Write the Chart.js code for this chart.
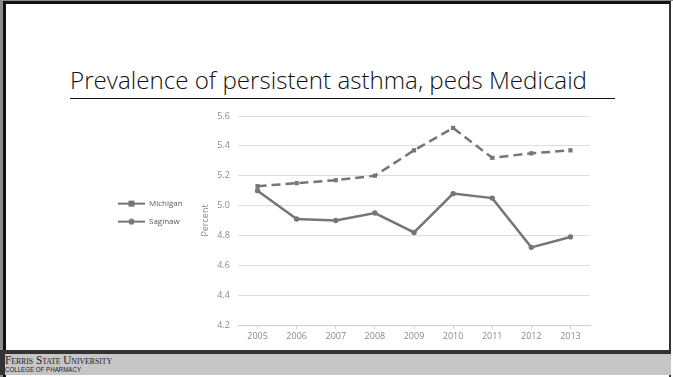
<!DOCTYPE html>
<html>
<head>
<meta charset="utf-8">
<script src="https://cdn.jsdelivr.net/npm/chart.js@4/dist/chart.umd.min.js"></script>
<style>
  html, body { margin: 0; padding: 0; background: #ffffff; }
  #slide { position: relative; width: 673px; height: 377px; overflow: hidden; background: #ffffff; }
  #frameOuter { position: absolute; left: 0; top: 0; width: 673px; height: 377px; box-sizing: border-box;
    border-left: 3px solid #8c8c8c; border-top: 1px solid #8c8c8c; }
  #frameInner { position: absolute; left: 3px; top: 1px; width: 668px; height: 376px; box-sizing: border-box;
    border-left: 3px solid #111; border-top: 3px solid #111; border-right: 2px solid #333; }
  #title { position: absolute; left: 70px; top: 64px; font-family: "Open Sans", sans-serif; font-weight: 300;
    font-size: 23px; color: #111; white-space: nowrap; transform-origin: 0 0; }
  #rule { position: absolute; left: 70px; top: 98px; width: 545px; height: 1px; background: #111; }
  #chartBox { position: absolute; left: 100px; top: 100px; width: 520px; height: 250px; }
  #footBar { position: absolute; left: 0; top: 350px; width: 671px; height: 4px; background: #333; }
  #foot { position: absolute; left: 0; top: 354px; width: 671px; height: 21px; background: #c6c6c6;
    border-left: 5px solid #333; box-sizing: border-box; }
  #fsu { position: absolute; left: 5px; top: 352px; font-family: "Liberation Serif", serif; font-variant: small-caps;
    font-size: 13px; color: #222; white-space: nowrap; transform-origin: 0 0; transform: scaleX(0.86); }
  #cop { position: absolute; left: 5px; top: 366px; font-family: "Liberation Sans", sans-serif;
    font-size: 7px; color: #222; white-space: nowrap; transform-origin: 0 0; transform: scaleX(0.88); }
</style>
</head>
<body>
<div id="slide">
  <div id="frameOuter"></div>
  <div id="frameInner"></div>
  <div id="title">Prevalence of persistent asthma, peds Medicaid</div>
  <div id="rule"></div>
  <div id="chartBox"><canvas id="chart" width="520" height="250"></canvas></div>
  <div id="footBar"></div>
  <div id="foot"></div>
  <div id="fsu">Ferris State University</div>
  <div id="cop">COLLEGE OF PHARMACY</div>
</div>
<script>
// Survey years and prevalence (%) of persistent asthma among pediatric Medicaid enrollees
const years = ['2005', '2006', '2007', '2008', '2009', '2010', '2011', '2012', '2013'];
const michigan = [5.13, 5.15, 5.17, 5.20, 5.37, 5.52, 5.32, 5.35, 5.37];
const saginaw = [5.10, 4.91, 4.90, 4.95, 4.82, 5.08, 5.05, 4.72, 4.79];
const seriesNames = ['Michigan', 'Saginaw'];
const yMin = 4.2, yMax = 5.6, yStep = 0.2;

// Stretch the heading to its slide width
(function fitTitle() {
  const t = document.getElementById('title');
  const w = t.getBoundingClientRect().width;
  t.style.transform = 'scaleX(' + (517 / w) + ')';
})();

const lineGray = '#767676';
const textGray = '#8a8a8a';

// Small line-with-marker swatches for the legend
function swatch(marker) {
  const c = document.createElement('canvas');
  c.width = 27; c.height = 8;
  const g = c.getContext('2d');
  g.strokeStyle = lineGray; g.fillStyle = lineGray; g.lineWidth = 2;
  g.beginPath(); g.moveTo(0, 4); g.lineTo(27, 4); g.stroke();
  if (marker === 'rect') { g.fillRect(10.5, 1, 6, 6); }
  else { g.beginPath(); g.arc(13.5, 4, 3, 0, Math.PI * 2); g.fill(); }
  return c;
}
const swatches = [swatch('rect'), swatch('circle')];

const PAD_LEFT = 8;      // space before the legend
const CHART_LEFT = 138;  // chart area left edge in canvas pixels

new Chart(document.getElementById('chart'), {
  type: 'line',
  data: {
    labels: years,
    datasets: [
      {
        label: seriesNames[0], data: michigan,
        borderColor: lineGray, backgroundColor: lineGray, borderWidth: 2.5,
        borderDash: [9, 5], pointStyle: 'rect', pointRadius: 3, pointBorderWidth: 0,
        tension: 0
      },
      {
        label: seriesNames[1], data: saginaw,
        borderColor: lineGray, backgroundColor: lineGray, borderWidth: 2.5,
        pointStyle: 'circle', pointRadius: 2.7, pointBorderWidth: 0,
        tension: 0
      }
    ]
  },
  options: {
    responsive: false,
    animation: false,
    devicePixelRatio: 1,
    layout: { padding: { top: 16, right: 30, left: PAD_LEFT, bottom: 0 } },
    plugins: {
      tooltip: { enabled: false },
      legend: {
        position: 'left',
        align: 'start',
        title: { display: true, text: ' ', font: { family: 'Open Sans', size: 8 }, padding: { top: 64, bottom: 0 } },
        labels: {
          usePointStyle: true,
          pointStyleWidth: 27,
          padding: 10,
          color: '#595959',
          font: { family: 'Open Sans', size: 8 },
          generateLabels: (chart) => chart.data.datasets.map((ds, i) => ({
            text: ds.label, pointStyle: swatches[i], fontColor: '#595959',
            datasetIndex: i, hidden: false, lineWidth: 0
          }))
        }
      }
    },
    scales: {
      x: {
        type: 'category',
        offset: true,
        grid: { display: true, drawOnChartArea: false, offset: false, color: '#d0d0d0', tickLength: 4 },
        border: { display: true, color: '#d0d0d0', width: 1 },
        ticks: { color: textGray, font: { family: 'Open Sans', size: 9 }, padding: 2, maxRotation: 0 },
        afterFit: (s) => { s.height = 25; }
      },
      y: {
        min: yMin, max: yMax,
        grid: { color: '#dedede', lineWidth: 1, drawTicks: false },
        border: { display: false },
        ticks: {
          stepSize: yStep, padding: 8, color: textGray,
          font: { family: 'Open Sans', size: 9 },
          callback: (v) => v.toFixed(1)
        },
        title: { display: true, text: 'Percent', color: textGray, font: { family: 'Open Sans', size: 9 }, padding: { top: 7, bottom: 4 } },
        afterFit: (s) => {
          const lw = s.chart.legend ? s.chart.legend.width : 0;
          s.width = Math.max(20, CHART_LEFT - PAD_LEFT - lw);
        }
      }
    }
  }
});
</script>
</body>
</html>
